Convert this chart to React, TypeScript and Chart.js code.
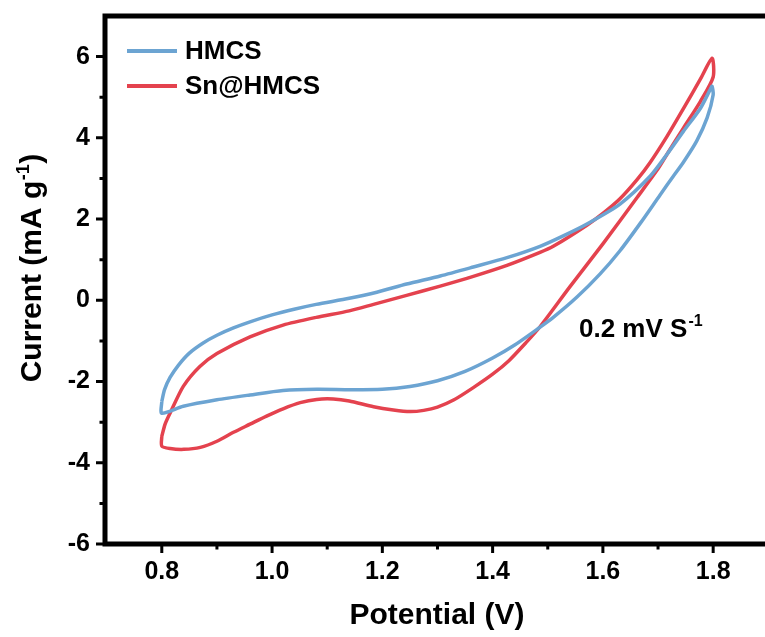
import { useEffect, useRef } from "react";
import { Chart, registerables } from "chart.js";
Chart.register(...registerables);

const seriesNames = ["HMCS", "Sn@HMCS"];
const seriesColors = ["#6CA4D2", "#E4424E"];

const hmcsV = [
  0.8, 0.805, 0.815, 0.83, 0.85, 0.875, 0.9, 0.93, 0.96, 1.0, 1.04, 1.08, 1.14, 1.19, 1.244, 1.305, 1.365, 1.426, 1.486,
  1.53, 1.571, 1.631, 1.686, 1.716, 1.746, 1.777, 1.795, 1.798,
  1.8, 1.789, 1.77, 1.746, 1.728, 1.704, 1.668, 1.631, 1.595, 1.553, 1.51, 1.48, 1.44, 1.4, 1.35, 1.3, 1.25, 1.2, 1.142,
  1.081, 1.02, 0.96, 0.9, 0.839, 0.8, 0.8,
];
const hmcsI = [
  -2.49, -2.2, -1.9, -1.6, -1.3, -1.05, -0.86, -0.68, -0.53, -0.36, -0.22, -0.1, 0.05, 0.2, 0.4, 0.6, 0.82, 1.05, 1.33,
  1.6, 1.88, 2.37, 3.06, 3.59, 4.16, 4.73, 5.2, 5.27,
  5.06, 4.49, 3.92, 3.4, 3.06, 2.6, 1.9, 1.22, 0.65, 0.08, -0.42, -0.72, -1.1, -1.42, -1.75, -1.98, -2.12, -2.19, -2.2,
  -2.19, -2.22, -2.33, -2.45, -2.61, -2.78, -2.49,
];

const snV = [
  0.8, 0.806, 0.815, 0.839, 0.869, 0.9, 0.96, 1.02, 1.08, 1.14, 1.184, 1.244, 1.305, 1.365, 1.426, 1.486, 1.51, 1.571, 1.6,
  1.631, 1.662, 1.686, 1.716, 1.746, 1.777, 1.798,
  1.8, 1.777, 1.746, 1.716, 1.698, 1.662, 1.6, 1.54, 1.486, 1.46, 1.43, 1.4, 1.365, 1.33, 1.3, 1.275, 1.25, 1.22, 1.184,
  1.14, 1.111, 1.081, 1.051, 1.02, 0.99, 0.96, 0.93, 0.9, 0.87, 0.84, 0.815, 0.8, 0.8,
];
const snI = [
  -3.35, -3.05, -2.78, -2.12, -1.63, -1.31, -0.9, -0.61, -0.42, -0.26, -0.1, 0.12, 0.35, 0.59, 0.86, 1.18, 1.33, 1.85, 2.14,
  2.5, 2.97, 3.4, 4.03, 4.72, 5.45, 5.96,
  5.5, 4.9, 4.24, 3.59, 3.2, 2.53, 1.39, 0.33, -0.65, -1.05, -1.48, -1.82, -2.15, -2.45, -2.63, -2.71, -2.74, -2.7, -2.62,
  -2.48, -2.43, -2.44, -2.52, -2.67, -2.85, -3.05, -3.25, -3.47, -3.62, -3.67, -3.65, -3.59, -3.35,
];

const xTickValues = [0.8, 1.0, 1.2, 1.4, 1.6, 1.8];
const xMinorTicks = [0.9, 1.1, 1.3, 1.5, 1.7];
const yTickValues = [-6, -4, -2, 0, 2, 4, 6];
const yMinorTicks = [-5, -3, -1, 1, 3, 5];

const xTitle = "Potential (V)";
const yTitleMain = "Current (mA g";
const yTitleSup = "-1";
const yTitleEnd = ")";
const noteMain = "0.2 mV S";
const noteSup = "-1";

const FAMILY = "'Liberation Sans', Arial, Helvetica, sans-serif";

function toPoints(xs: number[], ys: number[]) {
  return xs.map((v, i) => ({ x: v, y: ys[i] }));
}

const framePlugin = {
  id: "frame",
  afterDatasetsDraw(chart: any) {
    const { ctx, chartArea, scales } = chart;
    const { left, top, right, bottom } = chartArea;
    const x = scales.x;
    const y = scales.y;
    ctx.save();
    ctx.strokeStyle = "#000";
    ctx.lineCap = "butt";
    ctx.lineWidth = 5;
    ctx.beginPath();
    ctx.moveTo(left - 2.5, top);
    ctx.lineTo(right + 10, top);
    ctx.moveTo(left, top - 2.5);
    ctx.lineTo(left, bottom + 2.5);
    ctx.moveTo(left - 2.5, bottom);
    ctx.lineTo(right + 10, bottom);
    ctx.stroke();
    ctx.lineWidth = 3;
    ctx.beginPath();
    xTickValues.forEach((v) => {
      const px = x.getPixelForValue(v);
      ctx.moveTo(px, bottom);
      ctx.lineTo(px, bottom + 9);
    });
    xMinorTicks.forEach((v) => {
      const px = x.getPixelForValue(v);
      ctx.moveTo(px, bottom);
      ctx.lineTo(px, bottom + 5.5);
    });
    yTickValues.forEach((v) => {
      const py = y.getPixelForValue(v);
      ctx.moveTo(left, py);
      ctx.lineTo(left - 9, py);
    });
    yMinorTicks.forEach((v) => {
      const py = y.getPixelForValue(v);
      ctx.moveTo(left, py);
      ctx.lineTo(left - 5.5, py);
    });
    ctx.stroke();
    ctx.restore();
  },
  afterDraw(chart: any) {
    const { ctx, chartArea } = chart;
    const { left, right } = chartArea;
    ctx.save();
    ctx.fillStyle = "#000";
    ctx.textBaseline = "alphabetic";

    ctx.font = `bold 30px ${FAMILY}`;
    ctx.textAlign = "center";
    ctx.fillText(xTitle, (left + right) / 2 + 2, 624);

    ctx.textAlign = "left";
    const big = `bold 30px ${FAMILY}`;
    const small = `bold 18px ${FAMILY}`;
    ctx.font = big;
    const w1 = ctx.measureText(yTitleMain).width;
    const w3 = ctx.measureText(yTitleEnd).width;
    ctx.font = small;
    const w2 = ctx.measureText(yTitleSup).width;
    const total = w1 + w2 + w3 + 1;
    ctx.translate(41, 268);
    ctx.rotate(-Math.PI / 2);
    let cx = -total / 2;
    ctx.font = big;
    ctx.fillText(yTitleMain, cx, 0);
    cx += w1 + 0.5;
    ctx.font = small;
    ctx.fillText(yTitleSup, cx, -12);
    cx += w2 + 0.5;
    ctx.font = big;
    ctx.fillText(yTitleEnd, cx, 0);
    ctx.setTransform(1, 0, 0, 1, 0, 0);

    ctx.font = `bold 26px ${FAMILY}`;
    ctx.textBaseline = "middle";
    const rows = [51, 86];
    chart.data.datasets.forEach((ds: any, i: number) => {
      ctx.strokeStyle = ds.borderColor;
      ctx.lineWidth = 4;
      ctx.beginPath();
      ctx.moveTo(127, rows[i]);
      ctx.lineTo(177, rows[i]);
      ctx.stroke();
      ctx.fillStyle = "#000";
      ctx.fillText(ds.label, 185, rows[i] + 1);
    });

    ctx.textBaseline = "alphabetic";
    ctx.font = `bold 26px ${FAMILY}`;
    ctx.fillText(noteMain, 579, 337);
    const wn = ctx.measureText(noteMain).width;
    ctx.font = `bold 16px ${FAMILY}`;
    ctx.fillText(noteSup, 579 + wn + 1, 326);
    ctx.restore();
  },
};

export default function App() {
  const ref = useRef<HTMLCanvasElement | null>(null);
  useEffect(() => {
    if (!ref.current) return;
    const tickFont = { family: FAMILY, size: 25, weight: "bold" as const };
    const chart = new Chart(ref.current, {
      type: "scatter",
      data: {
        datasets: [
          {
            label: seriesNames[0],
            data: toPoints(hmcsV, hmcsI),
            showLine: true,
            borderColor: seriesColors[0],
            backgroundColor: seriesColors[0],
            borderWidth: 3.5,
            pointRadius: 0,
            tension: 0.25,
          },
          {
            label: seriesNames[1],
            data: toPoints(snV, snI),
            showLine: true,
            borderColor: seriesColors[1],
            backgroundColor: seriesColors[1],
            borderWidth: 3.5,
            pointRadius: 0,
            tension: 0.25,
          },
        ],
      },
      options: {
        responsive: false,
        animation: false,
        layout: { padding: { top: 16, right: 0, left: 0, bottom: 0 } },
        plugins: { legend: { display: false }, tooltip: { enabled: false } },
        scales: {
          x: {
            type: "linear",
            min: 0.697,
            max: 1.894,
            grid: { display: false, drawTicks: false, tickLength: 0 },
            border: { display: false },
            afterBuildTicks: (s: any) => {
              s.ticks = xTickValues.map((v) => ({ value: v }));
            },
            afterFit: (s: any) => {
              s.height = 93;
              s.paddingLeft = 0;
              s.paddingRight = 0;
            },
            ticks: {
              font: tickFont,
              color: "#000",
              padding: 13,
              maxRotation: 0,
              autoSkip: false,
              callback: (v: any) => Number(v).toFixed(1),
            },
          },
          y: {
            type: "linear",
            min: -6,
            max: 7,
            grid: { display: false, drawTicks: false, tickLength: 0 },
            border: { display: false },
            afterBuildTicks: (s: any) => {
              s.ticks = yTickValues.map((v) => ({ value: v }));
            },
            afterFit: (s: any) => {
              s.width = 105;
              s.paddingTop = 0;
              s.paddingBottom = 0;
            },
            ticks: {
              font: tickFont,
              color: "#000",
              padding: 15,
              autoSkip: false,
              callback: (v: any) => String(v),
            },
          },
        },
      },
      plugins: [framePlugin],
    });
    return () => chart.destroy();
  }, []);
  return (
    <canvas
      ref={ref}
      width={765}
      height={637}
      style={{ position: "absolute", left: 0, top: 0, display: "block", background: "#fff" }}
    />
  );
}
